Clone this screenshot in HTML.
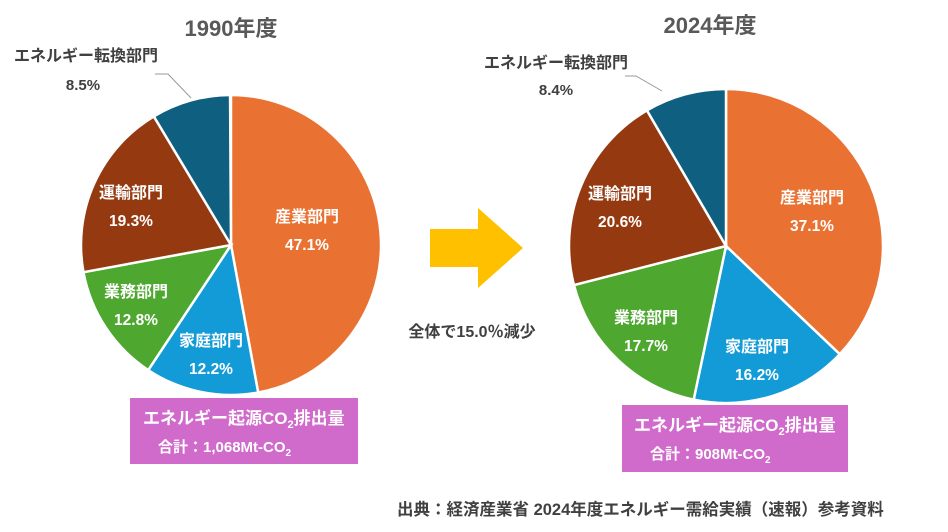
<!DOCTYPE html><html><head><meta charset="utf-8"><style>
body{margin:0;background:#fff;width:948px;height:527px;overflow:hidden;font-family:"Liberation Sans","Noto Sans CJK JP",sans-serif}
</style></head><body>
<svg id="s" width="948" height="527" xmlns="http://www.w3.org/2000/svg" font-family="Liberation Sans, Noto Sans CJK JP, sans-serif" font-weight="bold">
<text x="231" y="36" font-size="22" fill="#595959" text-anchor="middle">1990年度</text>
<text x="710" y="33" font-size="22" fill="#595959" text-anchor="middle">2024年度</text>
<polygon points="430,229 478,229 478,208 523,248 478,288 478,267 430,267" fill="#FFC000"/>
<text x="472" y="337" font-size="16" fill="#404040" text-anchor="middle">全体で15.0％減少</text>
<rect x="130" y="398" width="228" height="66" fill="#D06BCB"/>
<text x="143" y="424" font-size="17" fill="#fff">エネルギー起源CO<tspan font-size="11" dy="4">2</tspan><tspan dy="-4">排出量</tspan></text>
<text x="158" y="452" font-size="15" fill="#fff">合計：1,068Mt-CO<tspan font-size="10" dy="4">2</tspan></text>
<rect x="622" y="405" width="226" height="67" fill="#D06BCB"/>
<text x="634" y="431" font-size="17" fill="#fff">エネルギー起源CO<tspan font-size="11" dy="4">2</tspan><tspan dy="-4">排出量</tspan></text>
<text x="650" y="459" font-size="15" fill="#fff">合計：908Mt-CO<tspan font-size="10" dy="4">2</tspan></text>
<text x="397" y="515" font-size="16.5" fill="#404040">出典：経済産業省 2024年度エネルギー需給実績（速報）参考資料</text>
<text x="14" y="61" font-size="16" fill="#404040">エネルギー転換部門</text>
<text x="83" y="90" font-size="15" fill="#404040" text-anchor="middle">8.5%</text>
<polyline points="155,74 168,74 191,98" fill="none" stroke="#999"/>
<text x="484" y="68" font-size="16" fill="#404040">エネルギー転換部門</text>
<text x="556" y="95" font-size="15" fill="#404040" text-anchor="middle">8.4%</text>
<polyline points="625,76 636,76 662,91" fill="none" stroke="#999"/>
<g id="p"></g>
</svg>
<script>
var C=["#E97132","#139BD7","#4EA72E","#953A10","#0E5F80"];
function pie(cx,cy,r,v,labels){var a=0,h="";for(var i=0;i<v.length;i++){var a0=a*2*Math.PI/100;a+=v[i];var a1=a*2*Math.PI/100;
var x0=cx+r*Math.sin(a0),y0=cy-r*Math.cos(a0),x1=cx+r*Math.sin(a1),y1=cy-r*Math.cos(a1);
h+='<path d="M'+cx+','+cy+'L'+x0+','+y0+'A'+r+','+r+' 0 '+(v[i]>50?1:0)+' 1 '+x1+','+y1+'Z" fill="'+C[i]+'" stroke="#fff" stroke-width="2.5"/>';}
labels.forEach(function(l){h+='<text x="'+l[0]+'" y="'+l[1]+'" font-size="16" fill="#fff" text-anchor="middle">'+l[2]+'</text><text x="'+l[0]+'" y="'+(l[1]+28)+'" font-size="15.5" fill="#fff" text-anchor="middle">'+l[3]+'</text>';});
return h;}
document.getElementById("p").innerHTML=pie(231,245,150,[47.1,12.2,12.8,19.3,8.5],[[307,222,"産業部門","47.1%"],[211,346,"家庭部門","12.2%"],[136,297,"業務部門","12.8%"],[131,198,"運輸部門","19.3%"]])+
pie(726,246,157,[37.1,16.2,17.7,20.6,8.4],[[812,203,"産業部門","37.1%"],[757,352,"家庭部門","16.2%"],[646,323,"業務部門","17.7%"],[620,199,"運輸部門","20.6%"]]);
</script>
</body></html>
